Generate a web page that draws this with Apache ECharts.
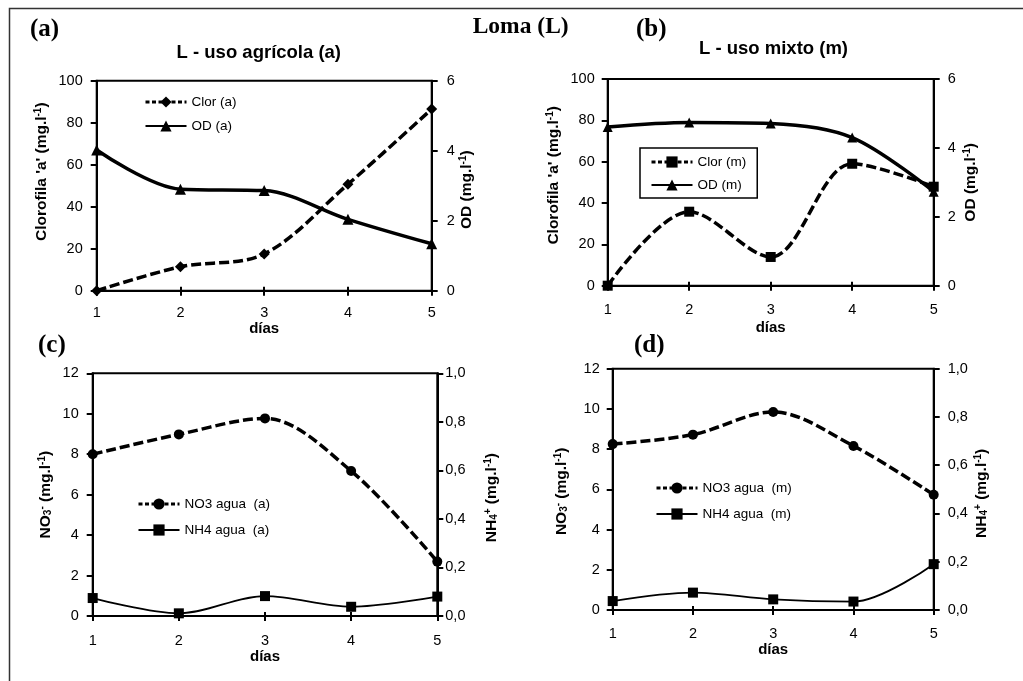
<!DOCTYPE html>
<html>
<head>
<meta charset="utf-8">
<script src="https://cdn.jsdelivr.net/npm/echarts@6/dist/echarts.min.js"></script>
<style>
html,body{margin:0;padding:0;background:#fff;}
#c{width:1023px;height:681px;}
</style>
</head>
<body>
<div id="c"></div>
<script>
// ---- data ----
var days = [1, 2, 3, 4, 5];
var clorA = [0, 11.4, 17.5, 50.7, 86.5];
var odA = [4.02, 2.90, 2.86, 2.04, 1.34];
var clorM = [0, 35.8, 13.9, 59.0, 47.9];
var odM = [4.61, 4.74, 4.71, 4.30, 2.73];
var no3A = [8.0, 8.98, 9.77, 7.17, 2.69];
var nh4A = [0.074, 0.011, 0.082, 0.038, 0.080];
var no3M = [8.25, 8.72, 9.85, 8.16, 5.73];
var nh4M = [0.037, 0.072, 0.044, 0.035, 0.19];

var SANS = '"Liberation Sans", Arial, sans-serif';
var SERIF = '"Liberation Serif", "Times New Roman", serif';

function pairs(ys) { return days.map(function (d, i) { return [d, ys[i]]; }); }

var richName = {
  n: { fontSize: 15.5, fontWeight: 'bold', fontFamily: SANS, color: '#000' },
  sup: { fontSize: 10, fontWeight: 'bold', fontFamily: SANS, color: '#000', verticalAlign: 'top' },
  sub: { fontSize: 10, fontWeight: 'bold', fontFamily: SANS, color: '#000', verticalAlign: 'bottom' }
};

var grids = [
  { left: 96.7, top: 80.7, width: 335, height: 210 },
  { left: 607.7, top: 79, width: 326, height: 206.7 },
  { left: 92.7, top: 373.3, width: 344.6, height: 242.7 },
  { left: 612.7, top: 368.7, width: 321, height: 241.3 }
];
var xLabelMargin = [15, 17, 17, 16];
var xNameGap = [28, 35, 32, 32];

var xAxes = [];
grids.forEach(function (g, i) {
  xAxes.push({
    type: 'value', gridIndex: i, min: 1, max: 5, interval: 1,
    name: 'días', nameLocation: 'middle', nameGap: xNameGap[i],
    nameTextStyle: { fontSize: 15, fontWeight: 'bold', fontFamily: SANS, color: '#000' },
    axisLine: { lineStyle: { color: '#000', width: 2 } },
    axisTick: { show: true, length: 5, lineStyle: { color: '#000', width: 2 } },
    axisLabel: { fontSize: 14.5, fontFamily: SANS, color: '#000', margin: xLabelMargin[i] },
    splitLine: { show: false }
  });
});
// helper axes for inward part of crossing ticks
grids.forEach(function (g, i) {
  xAxes.push({
    type: 'value', gridIndex: i, min: 1, max: 5, interval: 1, position: 'bottom',
    axisLine: { show: false },
    axisTick: { show: true, inside: true, length: 4, lineStyle: { color: '#000', width: 2 } },
    axisLabel: { show: false }, splitLine: { show: false }
  });
});

// shift: positive moves the name up on screen, negative moves it down
function yAx(gi, pos, min, max, interval, name, gap, margin, shift, fmt) {
  var pad = shift >= 0 ? [0, 0, 0, 2 * shift] : [0, -2 * shift, 0, 0];
  return {
    type: 'value', gridIndex: gi, position: pos, min: min, max: max, interval: interval,
    name: name, nameLocation: 'middle', nameGap: gap, nameRotate: 90,
    nameTextStyle: { rich: richName, padding: pad },
    axisLine: { show: true, lineStyle: { color: '#000', width: 2 } },
    axisTick: { show: true, length: 6, lineStyle: { color: '#000', width: 2 } },
    axisLabel: { fontSize: 14.5, fontFamily: SANS, color: '#000', margin: margin, formatter: fmt },
    splitLine: { show: false }
  };
}
function comma(v) { return v.toFixed(1).replace('.', ','); }

var yAxes = [
  yAx(0, 'left', 0, 100, 20, '{n|Clorofila \'a\' (mg.l}{sup|-1}{n|)}', 47, 14, 14),
  yAx(0, 'right', 0, 6, 2, '{n|OD (mg.l}{sup|-1}{n|)}', 27, 15, -4),
  yAx(1, 'left', 0, 100, 20, '{n|Clorofila \'a\' (mg.l}{sup|-1}{n|)}', 46, 13, 7),
  yAx(1, 'right', 0, 6, 2, '{n|OD (mg.l}{sup|-1}{n|)}', 29, 14, 0),
  yAx(2, 'left', 0, 12, 2, '{n|NO}{sub|3}{sup|-}{n| (mg.l}{sup|-1}{n|)}', 39, 14, 0),
  yAx(2, 'right', 0, 1, 0.2, '{n|NH}{sub|4}{sup|+}{n| (mg.l}{sup|-1}{n|)}', 46, 8, -3, comma),
  yAx(3, 'left', 0, 12, 2, '{n|NO}{sub|3}{sup|-}{n| (mg.l}{sup|-1}{n|)}', 43, 13, -2),
  yAx(3, 'right', 0, 1, 0.2, '{n|NH}{sub|4}{sup|+}{n| (mg.l}{sup|-1}{n|)}', 40, 14, -4, comma)
];

function ser(name, xi, yi, data, symbol, size, width, dashed) {
  return {
    name: name, type: 'line', xAxisIndex: xi, yAxisIndex: yi, data: pairs(data),
    smooth: 0.33, symbol: symbol, symbolSize: size, showSymbol: true,
    lineStyle: { color: '#000', width: width, type: dashed ? [10, 4] : 'solid' },
    itemStyle: { color: '#000', borderWidth: 0 },
    z: 3, animation: false
  };
}

var series = [
  ser('Clor (a)', 0, 0, clorA, 'diamond', 11, 3.5, true),
  ser('OD (a)', 0, 1, odA, 'triangle', 11, 3.5, false),
  ser('Clor (m)', 1, 2, clorM, 'rect', 10, 3.5, true),
  ser('OD (m)', 1, 3, odM, 'triangle', 10, 3.5, false),
  ser('NO3 agua  (a)', 2, 4, no3A, 'circle', 10, 3.5, true),
  ser('NH4 agua  (a)', 2, 5, nh4A, 'rect', 10, 1.8, false),
  ser('NO3 agua  (m)', 3, 6, no3M, 'circle', 10, 3.5, true),
  ser('NH4 agua  (m)', 3, 7, nh4M, 'rect', 10, 1.8, false)
];

function leg(names, left, top, gap, boxed) {
  var l = {
    data: [
      { name: names[0], lineStyle: { type: [4, 2.5], width: 3 } },
      { name: names[1] }
    ],
    orient: 'vertical', left: left, top: top, itemWidth: 41, itemHeight: 14,
    itemGap: gap, selectedMode: false,
    textStyle: { fontSize: 13.5, fontFamily: SANS, color: '#000' },
    padding: 0
  };
  if (boxed) {
    l.borderColor = '#000'; l.borderWidth = 1.5; l.padding = [7, 11, 6, 10];
  }
  return l;
}

var legends = [
  leg(['Clor (a)', 'OD (a)'], 144, 95, 10, false),
  leg(['Clor (m)', 'OD (m)'], 640, 148, 9, true),
  leg(['NO3 agua  (a)', 'NH4 agua  (a)'], 137, 497, 12, false),
  leg(['NO3 agua  (m)', 'NH4 agua  (m)'], 655, 481, 12, false)
];

function txt(s, x, y, font, align) {
  return { type: 'text', x: x, y: y, silent: true,
    style: { text: s, font: font, fill: '#000', align: align || 'left', verticalAlign: 'middle' } };
}

var graphics = [
  { type: 'polyline', shape: { points: [[9.5, 690], [9.5, 8.5], [1030, 8.5]] },
    style: { stroke: '#333', lineWidth: 1.5, fill: null }, silent: true },
  txt('(a)', 30, 30, 'bold 25px ' + SERIF),
  txt('Loma (L)', 472.7, 27, 'bold 23.5px ' + SERIF),
  txt('(b)', 636, 30, 'bold 25px ' + SERIF),
  txt('(c)', 38, 346, 'bold 25px ' + SERIF),
  txt('(d)', 634, 346, 'bold 25px ' + SERIF),
  txt('L - uso agrícola (a)', 258.8, 53, 'bold 18.5px ' + SANS, 'center'),
  txt('L - uso mixto (m)', 773.5, 49, 'bold 18.5px ' + SANS, 'center')
];

var chart = echarts.init(document.getElementById('c'), null, { renderer: 'canvas' });
chart.setOption({
  backgroundColor: '#fff',
  animation: false,
  grid: grids.map(function (g) {
    return { left: g.left, top: g.top, width: g.width, height: g.height,
      show: true, borderColor: '#000', borderWidth: 2, backgroundColor: 'transparent' };
  }),
  xAxis: xAxes,
  yAxis: yAxes,
  legend: legends,
  series: series,
  graphic: graphics
});
</script>
</body>
</html>
